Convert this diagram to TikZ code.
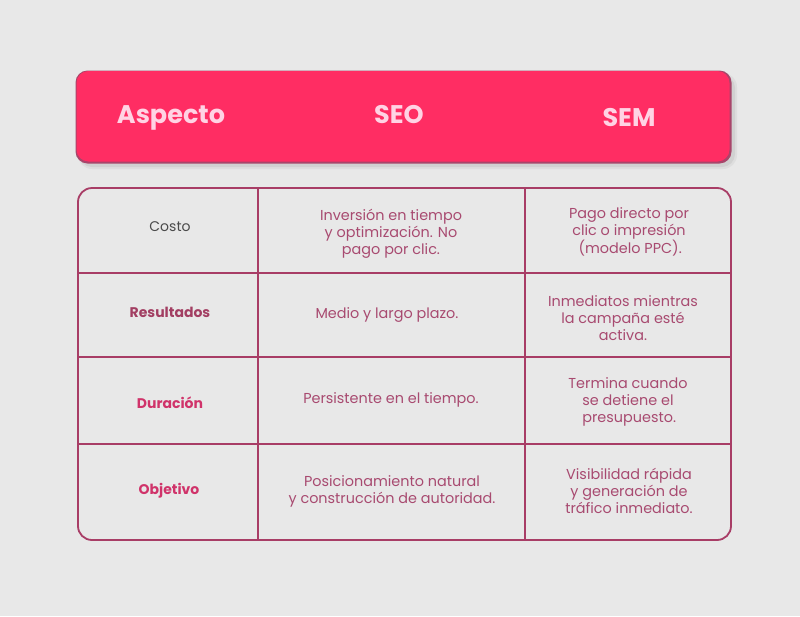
\documentclass[tikz,border=0pt]{standalone}
\usepackage{fontspec}
\setmainfont{Poppins}
\usetikzlibrary{shadows}
\definecolor{bg}{HTML}{E8E8E8}
\definecolor{hdr}{HTML}{FF2D63}
\definecolor{hdredge}{HTML}{A8456A}
\definecolor{hdrtext}{HTML}{FFD3E4}
\definecolor{grid}{HTML}{A83D66}
\definecolor{celltext}{HTML}{A84A70}
\definecolor{lbldark}{HTML}{A23E62}
\definecolor{lblpink}{HTML}{D0336A}
\definecolor{lblgray}{HTML}{4A4A4A}
\tikzset{
  hdrlabel/.style={text=hdrtext, font=\fontsize{25.5}{30}\selectfont\bfseries, inner sep=0pt, anchor=base},
  cell/.style={text=celltext, align=center, font=\fontsize{14.4}{17}\selectfont, inner sep=0pt},
  rowlbl/.style={font=\fontsize{14}{17}\selectfont\bfseries, inner sep=0pt},
  gridline/.style={draw=grid, line width=1.8pt},
}
\begin{document}
\begin{tikzpicture}[x=1pt,y=-1pt]
\fill[bg] (0,0) rectangle (800,616);
\useasboundingbox (0,0) rectangle (800,616);
% header
\fill[black!40, opacity=0.18, rounded corners=13pt] (79,75) rectangle (735,167);
\fill[black!40, opacity=0.12, rounded corners=14pt] (78,73) rectangle (737,169);
\fill[hdredge, rounded corners=12pt] (75.5,70.5) rectangle (731.5,163.5);
\fill[hdr, rounded corners=12pt] (76.5,71) rectangle (729.5,161.5);
\node[hdrlabel] (hA) at (171,123) {Aspecto};
\node[hdrlabel] (hB) at (399,123) {SEO};
\node[hdrlabel] (hC) at (629,126) {SEM};
% table
\draw[gridline, rounded corners=14pt] (78,188) rectangle (731,540);
\draw[gridline] (258,188) -- (258,540);
\draw[gridline] (525,188) -- (525,540);
\draw[gridline] (78,273) -- (731,273);
\draw[gridline] (78,357) -- (731,357);
\draw[gridline] (78,444) -- (731,444);
% row 1
\node[rowlbl, text=lblgray, font=\fontsize{14}{17}\selectfont] (r1) at (170,227) {Costo};
\node[cell] (r1a) at (391,233.5) {Inversión en tiempo\\y optimización. No\\pago por clic.};
\node[cell] (r1b) at (629,231.5) {Pago directo por\\clic o impresión\\ \,(modelo PPC).};
% row 2
\node[rowlbl, text=lbldark] (r2) at (170,312) {Resultados};
\node[cell] (r2a) at (387,315) {Medio y largo plazo.};
\node[cell] (r2b) at (623,318.5) {Inmediatos mientras\\la campaña esté\\activa.};
% row 3
\node[rowlbl, text=lblpink] (r3) at (170,403) {Duración};
\node[cell] (r3a) at (391,400) {Persistente en el tiempo.};
\node[cell] (r3b) at (628,401.5) {Termina cuando\\se detiene el\\ \,presupuesto.};
% row 4
\node[rowlbl, text=lblpink] (r4) at (169,491) {Objetivo};
\node[cell] (r4a) at (392,491.5) {Posicionamiento natural\\y construcción de autoridad.};
\node[cell] (r4b) at (629,490.5) {Visibilidad rápida\\y generación de\\tráfico inmediato.};
\end{tikzpicture}
\end{document}
